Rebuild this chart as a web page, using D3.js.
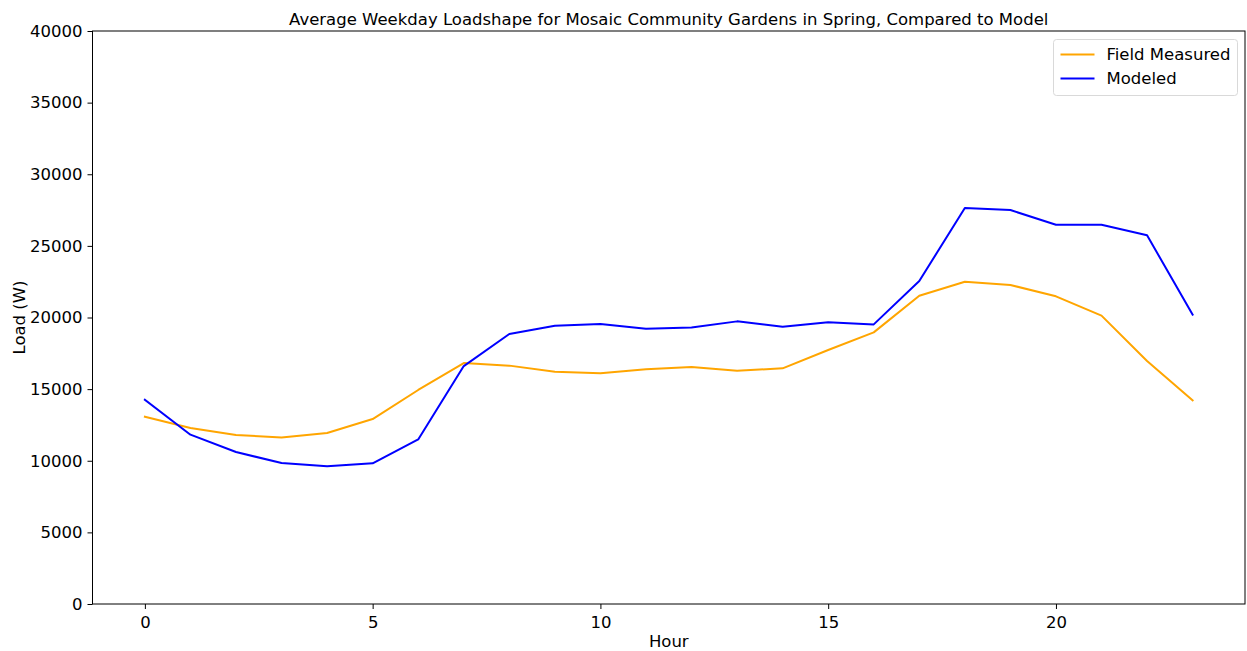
<!DOCTYPE html>
<html>
<head>
<meta charset="utf-8">
<script src="https://cdn.jsdelivr.net/npm/d3@7"></script>
<style>
  html, body { margin: 0; padding: 0; background: #fff; }
  svg { display: block; font-family: "DejaVu Sans", sans-serif; }
</style>
</head>
<body>
<svg id="chart" width="1247" height="651"></svg>
<script>
// Hourly average weekday load (W), spring
const hours = d3.range(0, 24);
const fieldMeasured = [13075, 12290, 11800, 11630, 11940, 12910, 14940, 16820,
  16640, 16220, 16100, 16380, 16540, 16290, 16450, 17730,
  18960, 21520, 22500, 22270, 21480, 20130, 16960, 14220];
const modeled = [14260, 11820, 10610, 9840, 9610, 9820, 11490, 16610,
  18850, 19430, 19550, 19220, 19310, 19730, 19360, 19660,
  19520, 22550, 27640, 27500, 26480, 26480, 25740, 20200];
const xTicks = [0, 5, 10, 15, 20];
const yTicks = [0, 5000, 10000, 15000, 20000, 25000, 30000, 35000, 40000];
const seriesNames = ["Field Measured", "Modeled"];
const seriesColors = ["#ffa500", "#0000ff"];

const FONT = 16.5;
const svg = d3.select("#chart");
const margin = { left: 92.5, right: 1245, top: 31, bottom: 604 };

const x = d3.scaleLinear().domain([-1.15, 24.15]).range([margin.left, margin.right]);
const y = d3.scaleLinear().domain([0, 40000]).range([margin.bottom, margin.top]);

// Axes
const xAxis = d3.axisBottom(x).tickValues(xTicks).tickSize(5).tickPadding(5).tickFormat(d3.format("d"));
const yAxis = d3.axisLeft(y).tickValues(yTicks).tickSize(5).tickPadding(5).tickFormat(d3.format("d"));

const gx = svg.append("g").attr("transform", `translate(0,${margin.bottom})`).call(xAxis);
const gy = svg.append("g").attr("transform", `translate(${margin.left},0)`).call(yAxis);
[gx, gy].forEach(g => {
  g.select(".domain").remove();
  g.selectAll("text").attr("font-size", FONT).attr("fill", "#000").attr("font-family", "DejaVu Sans");
  g.selectAll("line").attr("stroke", "#000").attr("stroke-width", 1);
});
gx.selectAll("text").attr("dy", "0.85em");

// Frame
svg.append("rect")
  .attr("x", margin.left).attr("y", margin.top)
  .attr("width", margin.right - margin.left).attr("height", margin.bottom - margin.top)
  .attr("fill", "none").attr("stroke", "#000").attr("stroke-width", 1);

// Lines
const line = d3.line().x((d, i) => x(hours[i])).y(d => y(d));
[fieldMeasured, modeled].forEach((vals, k) => {
  svg.append("path")
    .datum(vals)
    .attr("d", line)
    .attr("fill", "none")
    .attr("stroke", seriesColors[k])
    .attr("stroke-width", 2)
    .attr("stroke-linejoin", "round")
    .attr("stroke-linecap", "square");
});

// Title and axis labels
svg.append("text")
  .attr("x", (margin.left + margin.right) / 2).attr("y", 25)
  .attr("text-anchor", "middle").attr("font-size", FONT).attr("fill", "#000")
  .text("Average Weekday Loadshape for Mosaic Community Gardens in Spring, Compared to Model");
svg.append("text")
  .attr("x", (margin.left + margin.right) / 2).attr("y", 647)
  .attr("text-anchor", "middle").attr("font-size", FONT).attr("fill", "#000")
  .text("Hour");
svg.append("text")
  .attr("transform", `translate(25,${(margin.top + margin.bottom) / 2}) rotate(-90)`)
  .attr("text-anchor", "middle").attr("font-size", FONT).attr("fill", "#000")
  .text("Load (W)");

// Legend
const lg = svg.append("g").attr("transform", "translate(1053.5,39.5)");
lg.append("rect").attr("width", 184).attr("height", 56).attr("rx", 3)
  .attr("fill", "#fff").attr("fill-opacity", 0.8).attr("stroke", "#d9d9d9");
seriesNames.forEach((name, k) => {
  const yy = 15 + k * 24;
  lg.append("line").attr("x1", 7).attr("x2", 41).attr("y1", yy).attr("y2", yy)
    .attr("stroke", seriesColors[k]).attr("stroke-width", 2);
  lg.append("text").attr("x", 53).attr("y", yy).attr("dy", "0.35em")
    .attr("font-size", FONT).attr("fill", "#000").text(name);
});
</script>
</body>
</html>
